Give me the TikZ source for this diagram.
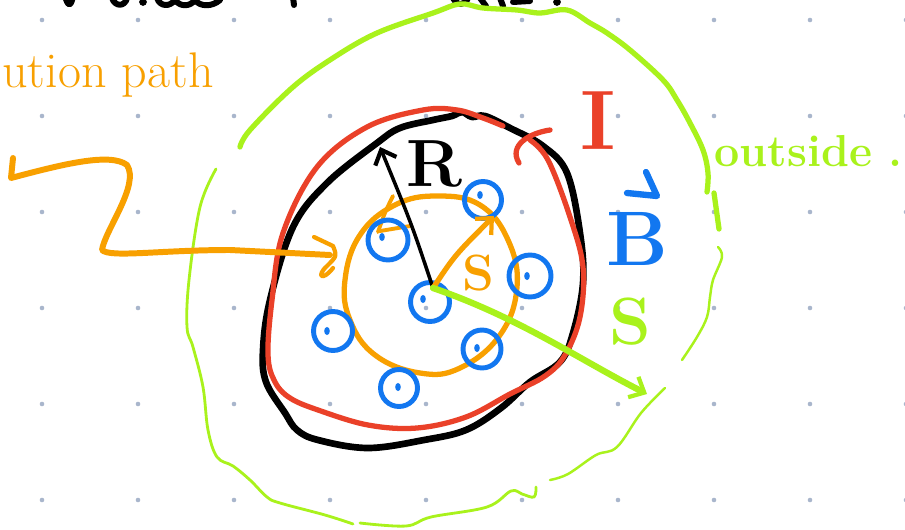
\documentclass[tikz,border=0pt]{standalone}
\usepackage{tikz}
\usetikzlibrary{arrows.meta}
\definecolor{dotgray}{HTML}{A9B6CC}
\definecolor{penred}{HTML}{EA4129}
\definecolor{penblue}{HTML}{1277F0}
\definecolor{pengreen}{HTML}{A9F21C}
\definecolor{penorange}{HTML}{F8A000}

\begin{document}
\begin{tikzpicture}[x=0.02cm, y=-0.02cm,
  pen/.style={line cap=round, line join=round},
  part/.style={circle, draw=penblue, line width=2.8pt, inner sep=0pt},
  hand/.style={font=\fontsize{#1}{#1}\selectfont\bfseries, inner sep=0pt},
  soln/.style={pen, draw=penorange, line width=3pt},
  outer/.style={pen, draw=pengreen, line width=#1},
  barb/.style={-{Straight Barb[length=7pt, width=13pt, line width=2.4pt]}}
]
  \useasboundingbox (0,0) rectangle (905,530);
  \fill[white] (0,0) rectangle (905,530);
  \foreach \gx in {42,138,...,906}
    \foreach \gy in {20,116,...,500}
      \fill[dotgray] (\gx,\gy) circle[radius=1.3pt];

  % bottoms of the cut-off title
  \draw[pen, line width=3.4pt] (65,-4) .. controls (68,7) and (71,7) .. (73,-4);
  \draw[pen, line width=3.4pt] (112,-2) .. controls (115,7) and (125,7) .. (127,-2);
  \fill (143,2) circle[radius=2.2pt];
  \draw[pen, line width=3.4pt] (157,-2) .. controls (160,7) and (170,7) .. (175,0)
    .. controls (180,7) and (190,7) .. (195,0) .. controls (200,7) and (212,7) .. (220,0);
  \draw[pen, line width=3.4pt] (293,-3) -- (294,5);
  \draw[pen, line width=3.4pt] (453,-2) .. controls (457,6) and (465,6) .. (468,-2);
  \draw[pen, line width=3.4pt] (480,-2) -- (486,6) (500,-2) -- (503,6) (513,2) -- (530,1);
  \fill (557,2) circle[radius=2.2pt];

  % outside boundary
  \draw[outer=3pt] plot[smooth, tension=0.6] coordinates {(240,147) (250,130) (293,87) (333,58) (377,33) (433,13) (460,4) (483,8) (517,10) (540,13) (567,10) (590,23) (607,33) (630,50) (663,80) (677,100) (690,123) (703,150) (708,173) (707,192)};
  \draw[outer=3pt] (714,193) -- (719,229);
  \draw[outer=1.4pt] plot[smooth, tension=0.6] coordinates {(718,247) (722,257) (713,280) (710,297) (707,317) (697,337) (682,360)};
  \draw[outer=1.4pt] plot[smooth, tension=0.6] coordinates {(665,388) (641,413) (617,447) (596,455) (568,474) (550,480)};
  \draw[outer=1.6pt] plot[smooth, tension=0.6] coordinates {(536,487) (534,497) (522,494) (511,491) (487,507) (431,517) (406,526) (360,523)};
  \draw[outer=1.6pt] plot[smooth, tension=0.6] coordinates {(353,524) (325,515) (280,503) (267,497) (250,480) (233,466) (217,457) (208,430) (203,387) (193,347) (187,327) (189,280) (200,207) (216,169)};

  % boundary of the region
  \draw[pen, line width=3.8pt] plot[smooth cycle, tension=0.6] coordinates {(377,143) (400,128) (433,120) (452,116) (462,112) (472,117) (485,116) (510,128) (543,146) (567,173) (580,233) (583,283) (573,333) (560,362) (530,382) (501,408) (466,430) (424,440) (368,448) (318,440) (297,430) (285,413) (266,382) (263,350) (270,300) (293,227) (327,183)};
  \draw[pen, draw=penred, line width=3pt] plot[smooth, tension=0.6] coordinates {(503,126) (483,118) (457,110) (423,110) (367,127) (317,167) (283,233) (272,300) (268,355) (275,382) (290,398) (318,410) (368,425) (417,428) (466,417) (510,394) (545,376) (565,355) (580,317) (583,267) (570,217) (548,160) (530,140)};
  \draw[pen, draw=penred, line width=3pt] (550,130) .. controls (530,133) and (508,145) .. (519,163);

  % solution space
  \draw[soln] plot[smooth cycle, tension=0.7] coordinates {(437,196) (480,205) (508,240) (517,287) (500,335) (460,368) (420,373) (375,355) (350,320) (345,280) (360,235) (395,205)};
  \draw[soln, line width=2.2pt] (393,196) .. controls (385,212) .. (378,232);
  \draw[soln, line width=2.2pt] (380,231) -- (410,226);

  \foreach \nm/\px/\py/\d/\dx/\dy in {pa/483/200/37/-3/-5, pb/388/240/40/-6/-3, pc/530/276/42/-3/0, pd/430/302/39/-7/-3, pe/333/331/39/-6/0, pf/482/349/38/-5/-1, pg/399/388/37/-1/-1}
  {
    \node[part, minimum size=\d*0.02cm] (\nm) at (\px,\py) {};
    \fill[penblue] (\px+\dx,\py+\dy) ellipse[x radius=1.6pt, y radius=2.3pt];
  }

  \coordinate (ctr) at (433,288);
  \coordinate (tipR) at (380,147);
  \coordinate (tipS) at (494,216);
  \coordinate (tipG) at (647,394);
  \coordinate (pstart) at (13,158);
  \coordinate (pend) at (330,255);

  \draw[pen, line width=2pt, barb] (ctr) .. controls (412,225) .. (tipR);
  \draw[soln, barb] (ctr) .. controls (455,255) .. (tipS);
  \draw[outer=3.6pt, barb] (ctr) .. controls (520,318) and (580,360) .. (tipG);

  \draw[soln, line width=3.4pt] (pstart) -- (11,178) .. controls (60,165) and (110,152) .. (127,165)
    .. controls (140,185) and (105,230) .. (102,250) .. controls (110,258) and (160,250) .. (230,250) -- (pend);
  \draw[soln, line width=2.4pt] (314,237) -- (333,246) .. controls (337,256) .. (327,266)
    .. controls (316,276) and (322,282) .. (333,268);

  \draw[pen, draw=penblue, line width=3.6pt] (627,193) -- (657,196) -- (646,172);

  \node[font=\fontsize{28.5}{28.5}\selectfont, inner sep=0pt, text=penorange, anchor=base west] (lblpath) at (2,88) {ution path};
  \node[hand=38] (lblR) at (434,164) {R};
  \node[hand=29, text=penorange] (lblS) at (478,273) {S};
  \node[hand=48, text=penred] (lblI) at (598,121) {I};
  \node[hand=44, text=penblue] (lblB) at (637,239) {B};
  \node[hand=38, text=pengreen] (lblSout) at (630,322) {S};
  \node[hand=25.5, text=pengreen, anchor=base west] (lblout) at (714,167) {outside .};
\end{tikzpicture}
\end{document}
